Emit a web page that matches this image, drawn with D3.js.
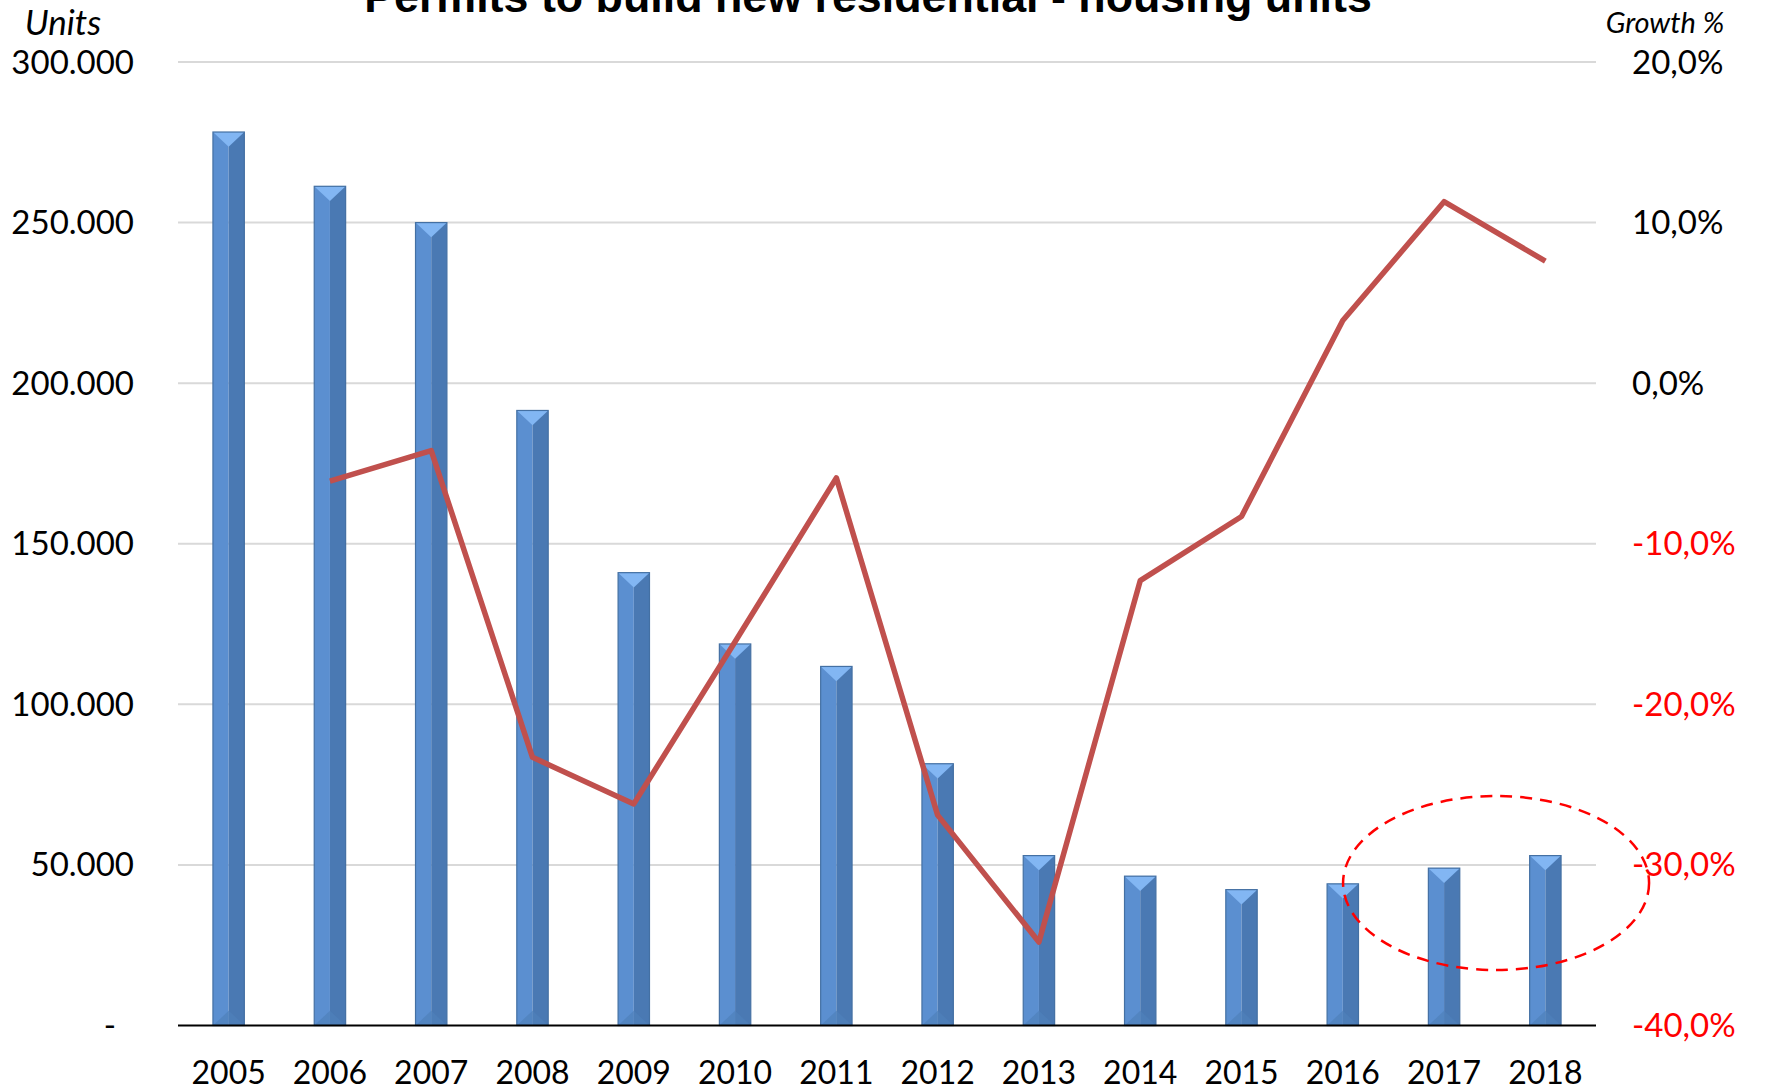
<!DOCTYPE html>
<meta charset='utf-8'>
<style>
body { margin: 0; background: #fff; }
text { font-family: Lato, 'Open Sans', sans-serif; }
.grid line { stroke: #d9d9d9; stroke-width: 2; }
</style>
<svg width='1775' height='1090'></svg>
<script src='https://cdnjs.cloudflare.com/ajax/libs/d3/7.8.5/d3.min.js'></script>
<script>
// data
var years = ['2005','2006','2007','2008','2009','2010','2011','2012','2013','2014','2015','2016','2017','2018'];
var units = [278200, 261300, 250000, 191500, 141000, 118800, 111800, 81500, 52900, 46500, 42300, 44100, 49000, 52900];
var growth = [null, -6.1, -4.2, -23.3, -26.2, -16.1, -5.9, -26.9, -34.8, -12.3, -8.3, 3.9, 11.3, 7.6];
var unitTicks = [0, 50000, 100000, 150000, 200000, 250000, 300000];
var growthTicks = [-40, -30, -20, -10, 0, 10, 20];
var title = 'Permits to build new residential - housing units';

var svg = d3.select('svg'),
    plotLeft = 178, plotRight = 1596, plotTop = 62, plotBottom = 1025.5;

var x = d3.scalePoint().domain(years).range([plotLeft, plotRight]).padding(0.5),
    yL = d3.scaleLinear().domain([0, 300000]).range([plotBottom, plotTop]),
    yR = d3.scaleLinear().domain([-40, 20]).range([plotBottom, plotTop]),
    barW = x.step() * 0.31;

// gridlines
svg.append('g').attr('class', 'grid')
  .selectAll('line').data(unitTicks.filter(d => d > 0)).join('line')
  .attr('x1', plotLeft).attr('x2', plotRight)
  .attr('y1', d => yL(d)).attr('y2', d => yL(d));

// left axis labels
var fmt = d3.formatLocale({decimal: ',', thousands: '.', grouping: [3]});
svg.append('g').selectAll('text').data(unitTicks).join('text')
  .attr('x', d => d === 0 ? 116 : 134)
  .attr('y', d => yL(d))
  .attr('dy', '0.35em')
  .attr('text-anchor', 'end')
  .attr('font-size', 33)
  .text(d => d === 0 ? '-' : fmt.format(',.0f')(d));

// right axis labels
svg.append('g').selectAll('text').data(growthTicks).join('text')
  .attr('x', 1632)
  .attr('y', d => yR(d))
  .attr('dy', '0.35em')
  .attr('font-size', 33)
  .attr('fill', d => d < 0 ? '#ff0000' : '#000')
  .text(d => d3.format('.1f')(d).replace('.', ',').replace('−', '-') + '%');

// bars with bevel look
var bars = svg.append('g').selectAll('g').data(years).join('g')
  .attr('transform', d => 'translate(' + (x(d) - barW / 2) + ',0)');
bars.each(function(d, i) {
  var g = d3.select(this),
      y0 = yL(units[i]), h = plotBottom - y0, w = barW, t = w * 0.47;
  g.append('rect').attr('x', 0).attr('y', y0).attr('width', w / 2).attr('height', h).attr('fill', '#5b8fd0');
  g.append('rect').attr('x', w / 2).attr('y', y0).attr('width', w / 2).attr('height', h).attr('fill', '#4a79b3');
  g.append('path').attr('d', `M0,${y0}H${w}L${w / 2},${y0 + t}Z`).attr('fill', '#82b6f3');
  g.append('path').attr('d', `M0,${plotBottom}L${w / 2},${plotBottom - t}L${w},${plotBottom}Z`).attr('fill', '#4f80bb').attr('opacity', 0.7);
  g.append('rect').attr('x', 0).attr('y', y0).attr('width', w).attr('height', h)
    .attr('fill', 'none').attr('stroke', '#4470a3').attr('stroke-width', 1.2);
});

// baseline
svg.append('line').attr('x1', plotLeft).attr('x2', plotRight).attr('y1', plotBottom).attr('y2', plotBottom)
  .attr('stroke', '#000').attr('stroke-width', 2);

// growth line
var line = d3.line().defined(d => d[1] != null).x(d => x(d[0])).y(d => yR(d[1]));
svg.append('path').datum(years.map((y, i) => [y, growth[i]]))
  .attr('d', line).attr('fill', 'none').attr('stroke', '#c0504d')
  .attr('stroke-width', 5.5).attr('stroke-linejoin', 'round');

// year labels
svg.append('g').selectAll('text').data(years).join('text')
  .attr('x', d => x(d)).attr('y', 1073).attr('dy', '0.35em')
  .attr('text-anchor', 'middle').attr('font-size', 32).text(d => d);

// axis titles
svg.append('text').attr('x', 63).attr('y', 23).attr('dy', '0.35em')
  .attr('text-anchor', 'middle').attr('font-size', 35).attr('font-style', 'italic').text('Units');
svg.append('text').attr('x', 1665).attr('y', 23).attr('dy', '0.35em')
  .attr('text-anchor', 'middle').attr('font-size', 29).attr('font-style', 'italic').text('Growth %');

// chart title (cut off at the top in the reference)
var tt = svg.append('text').attr('x', 868).attr('y', 12)
  .attr('text-anchor', 'middle')
  .attr('font-weight', 'bold').attr('font-size', 38).style('font-family', 'Liberation Sans, Arial, sans-serif').text(title);
var len = tt.node().getComputedTextLength();
tt.attr('font-size', 38 * 1008 / len);

// dashed highlight ellipse
svg.append('ellipse').attr('cx', x('2017') + 52).attr('cy', 883).attr('rx', 153).attr('ry', 87)
  .attr('fill', 'none').attr('stroke', '#ff0000').attr('stroke-width', 2.5)
  .attr('stroke-dasharray', '12,8');
</script>
